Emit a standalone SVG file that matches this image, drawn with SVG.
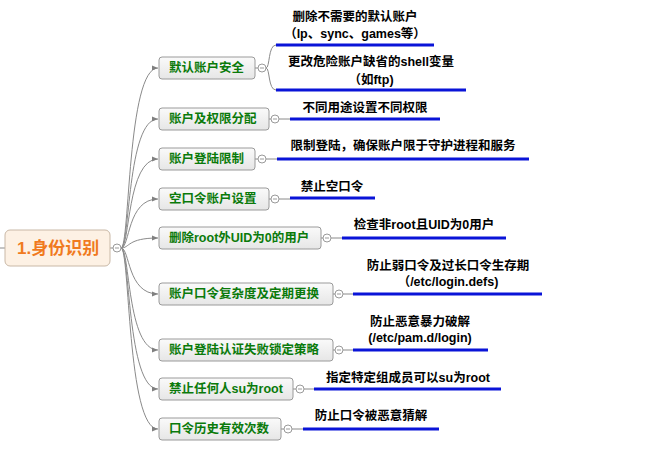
<svg xmlns="http://www.w3.org/2000/svg" width="658" height="456" viewBox="0 0 658 456">
<defs>
<linearGradient id="cg" x1="0" y1="0" x2="0" y2="1"><stop offset="0" stop-color="#fafafa"/><stop offset="1" stop-color="#e6e6e6"/></linearGradient>
<marker id="ah" viewBox="0 0 6 6" refX="6" refY="3" markerWidth="6" markerHeight="6" orient="auto" markerUnits="userSpaceOnUse"><path d="M0,0.5 L6,3 L0,5.5 Z" fill="#808080"/></marker>
</defs>
<style>
text{font-family:"Liberation Sans","Noto Sans CJK SC",sans-serif;font-weight:bold;dominant-baseline:central}
.root rect{fill:#fdf1e4;stroke:#c9b8a6;stroke-width:1}
.root text{fill:#f07a1e;font-size:17px}
.child rect{fill:url(#cg);stroke:#9a9a9a;stroke-width:1}
.child text{fill:#0a7a0a;font-size:12.5px}
.leaf text{fill:#000;font-size:12.5px;text-anchor:middle}
.leaf line{stroke:#0a14d8;stroke-width:3}
.conn path,.conn line{fill:none;stroke:#8a8a8a;stroke-width:1}
.cc{fill:#fff;stroke:#9a9a9a;stroke-width:1}
.cm{stroke:#9a9a9a;stroke-width:1}
</style>
<rect width="658" height="456" fill="#fff"/>
<g id="connectors" class="conn">
<line x1="0" y1="248" x2="5" y2="248"/>
<line x1="110" y1="248" x2="113" y2="248"/>
<path d="M121 248 C130 248,127 68,158 68" marker-end="url(#ah)"/>
<path d="M121 248 C130 248,127 119,158 119" marker-end="url(#ah)"/>
<path d="M121 248 C130 248,127 159,158 159" marker-end="url(#ah)"/>
<path d="M121 248 C130 248,127 199,158 199" marker-end="url(#ah)"/>
<path d="M121 248 C130 248,127 238,158 238" marker-end="url(#ah)"/>
<path d="M121 248 C130 248,127 294,158 294" marker-end="url(#ah)"/>
<path d="M121 248 C130 248,127 350,158 350" marker-end="url(#ah)"/>
<path d="M121 248 C130 248,127 389,158 389" marker-end="url(#ah)"/>
<path d="M121 248 C130 248,127 429,158 429" marker-end="url(#ah)"/>
<line x1="255" y1="68" x2="258" y2="68"/>
<path d="M266 68 C270 68,268 45,276 45"/>
<path d="M266 68 C270 68,268 90,276 90"/>
<line x1="269" y1="119" x2="271" y2="119"/><line x1="279" y1="119" x2="290" y2="119"/>
<line x1="255" y1="159" x2="258" y2="159"/><line x1="266" y1="159" x2="277" y2="159"/>
<line x1="269" y1="199" x2="271" y2="199"/><line x1="279" y1="199" x2="290" y2="199"/>
<line x1="321" y1="238" x2="323" y2="238"/><line x1="331" y1="238" x2="342" y2="238"/>
<line x1="333" y1="294" x2="335" y2="294"/><line x1="343" y1="294" x2="353" y2="294"/>
<line x1="333" y1="350" x2="335" y2="350"/><line x1="343" y1="350" x2="353" y2="350"/>
<line x1="293" y1="389" x2="296" y2="389"/><line x1="304" y1="389" x2="314" y2="389"/>
<line x1="281" y1="429" x2="284" y2="429"/><line x1="292" y1="429" x2="303" y2="429"/>
</g>
<g id="root" class="root"><rect x="5" y="230" width="105" height="36" rx="5"/><text x="17" y="248">1.身份识别</text>
<circle class="cc" cx="117" cy="248" r="4"/><line class="cm" x1="115" y1="248" x2="119" y2="248"/></g>
<g id="c1" class="child"><rect x="159" y="57" width="96" height="22" rx="3"/><text x="169" y="68">默认账户安全</text><circle class="cc" cx="262" cy="68" r="4"/><line class="cm" x1="260" y1="68" x2="264" y2="68"/></g>
<g id="c2" class="child"><rect x="159" y="108" width="110" height="22" rx="3"/><text x="169" y="119">账户及权限分配</text><circle class="cc" cx="275" cy="119" r="4"/><line class="cm" x1="273" y1="119" x2="277" y2="119"/></g>
<g id="c3" class="child"><rect x="159" y="148" width="96" height="22" rx="3"/><text x="169" y="159">账户登陆限制</text><circle class="cc" cx="262" cy="159" r="4"/><line class="cm" x1="260" y1="159" x2="264" y2="159"/></g>
<g id="c4" class="child"><rect x="159" y="188" width="110" height="22" rx="3"/><text x="169" y="199">空口令账户设置</text><circle class="cc" cx="275" cy="199" r="4"/><line class="cm" x1="273" y1="199" x2="277" y2="199"/></g>
<g id="c5" class="child"><rect x="159" y="227" width="162" height="22" rx="3"/><text x="169" y="238">删除root外UID为0的用户</text><circle class="cc" cx="327" cy="238" r="4"/><line class="cm" x1="325" y1="238" x2="329" y2="238"/></g>
<g id="c6" class="child"><rect x="159" y="283" width="174" height="22" rx="3"/><text x="169" y="294">账户口令复杂度及定期更换</text><circle class="cc" cx="339" cy="294" r="4"/><line class="cm" x1="337" y1="294" x2="341" y2="294"/></g>
<g id="c7" class="child"><rect x="159" y="339" width="174" height="22" rx="3"/><text x="169" y="350">账户登陆认证失败锁定策略</text><circle class="cc" cx="339" cy="350" r="4"/><line class="cm" x1="337" y1="350" x2="341" y2="350"/></g>
<g id="c8" class="child"><rect x="159" y="378" width="134" height="22" rx="3"/><text x="169" y="389">禁止任何人su为root</text><circle class="cc" cx="300" cy="389" r="4"/><line class="cm" x1="298" y1="389" x2="302" y2="389"/></g>
<g id="c9" class="child"><rect x="159" y="418" width="122" height="22" rx="3"/><text x="169" y="429">口令历史有效次数</text><circle class="cc" cx="288" cy="429" r="4"/><line class="cm" x1="286" y1="429" x2="290" y2="429"/></g>
<g id="l1a" class="leaf"><text x="355" y="17">删除不需要的默认账户</text><text x="355" y="34">（lp、sync、games等）</text><line x1="276" y1="45" x2="434" y2="45"/></g>
<g id="l1b" class="leaf"><text x="371" y="62">更改危险账户缺省的shell变量</text><text x="371" y="80">（如ftp)</text><line x1="276" y1="90" x2="466" y2="90"/></g>
<g id="l2" class="leaf"><text x="365" y="108">不同用途设置不同权限</text><line x1="290" y1="119" x2="440" y2="119"/></g>
<g id="l3" class="leaf"><text x="403" y="146">限制登陆，确保账户限于守护进程和服务</text><line x1="277" y1="159" x2="529" y2="159"/></g>
<g id="l4" class="leaf"><text x="332" y="187">禁止空口令</text><line x1="290" y1="198" x2="375" y2="198"/></g>
<g id="l5" class="leaf"><text x="424" y="225">检查非root且UID为0用户</text><line x1="342" y1="238" x2="506" y2="238"/></g>
<g id="l6" class="leaf"><text x="448" y="266">防止弱口令及过长口令生存期</text><text x="448" y="282">（/etc/login.defs)</text><line x1="353" y1="294" x2="542" y2="294"/></g>
<g id="l7" class="leaf"><text x="420" y="322">防止恶意暴力破解</text><text x="420" y="338">(/etc/pam.d/login)</text><line x1="353" y1="350" x2="488" y2="350"/></g>
<g id="l8" class="leaf"><text x="408" y="378">指定特定组成员可以su为root</text><line x1="314" y1="389" x2="501" y2="389"/></g>
<g id="l9" class="leaf"><text x="371" y="416">防止口令被恶意猜解</text><line x1="303" y1="429" x2="439" y2="429"/></g>
</svg>
